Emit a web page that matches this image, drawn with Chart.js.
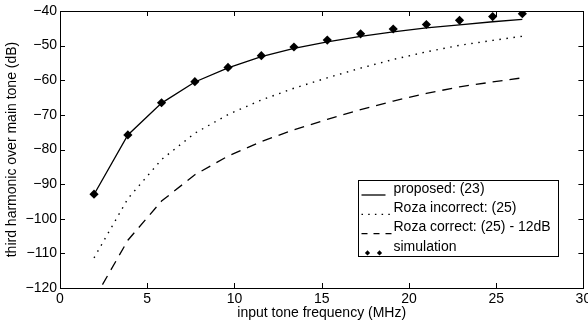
<!DOCTYPE html>
<html>
<head>
<meta charset="utf-8">
<script src="https://cdn.jsdelivr.net/npm/chart.js@4.4.1/dist/chart.umd.min.js"></script>
<style>
  html, body { margin: 0; padding: 0; background: #fff; }
  #wrap { width: 588px; height: 322px; position: relative; }
</style>
</head>
<body>
<div id="wrap"><canvas id="chart"></canvas></div>
<script>
// input tone frequency (MHz)
const freqs = [1.95, 3.89, 5.82, 7.73, 9.63, 11.54, 13.41, 15.32, 17.23, 19.1, 21.0, 22.9, 24.8, 26.5];
// third harmonic over main tone (dB)
const proposed = [-93, -75.8, -66.6, -60.5, -56.4, -53.2, -50.8, -48.9, -47.3, -46.0, -44.9, -44.0, -43.1, -42.4];
const rozaIncorrect = [-111.3, -94.2, -82.9, -75.3, -69.9, -65.7, -62.3, -59.3, -56.5, -54.0, -51.8, -49.9, -48.5, -47.3];
const rozaCorrect = [-123.3, -106.2, -94.9, -87.3, -81.9, -77.7, -74.3, -71.3, -68.5, -66.0, -63.8, -61.9, -60.5, -59.3];
const simulation = [-92.9, -75.8, -66.5, -60.4, -56.3, -52.9, -50.4, -48.4, -46.6, -45.2, -43.9, -42.7, -41.6, -40.8];

const legendLabels = ["proposed: (23)", "Roza incorrect: (25)", "Roza correct: (25) - 12dB", "simulation"];

const FONT = "'Liberation Sans', Arial, Helvetica, sans-serif";
const pts = ys => ys.map((y, i) => ({x: freqs[i], y}));

// frame + inward tick marks on all four sides
const framePlugin = {
    id: 'frame',
    afterDraw(chart) {
        const {ctx, chartArea: a, scales: {x, y}} = chart;
        ctx.save();
        ctx.strokeStyle = '#000';
        ctx.lineWidth = 1;
        const tl = 5;
        ctx.beginPath();
        for (const t of x.ticks) {
            const px = Math.round(x.getPixelForValue(t.value)) + 0.5;
            ctx.moveTo(px, a.bottom); ctx.lineTo(px, a.bottom - tl);
            ctx.moveTo(px, a.top); ctx.lineTo(px, a.top + tl);
        }
        for (const t of y.ticks) {
            const py = Math.round(y.getPixelForValue(t.value)) + 0.5;
            ctx.moveTo(a.left, py); ctx.lineTo(a.left + tl, py);
            ctx.moveTo(a.right, py); ctx.lineTo(a.right - tl, py);
        }
        ctx.stroke();
        ctx.strokeRect(Math.round(a.left) + 0.5, Math.round(a.top) + 0.5,
            Math.round(a.right - a.left), Math.round(a.bottom - a.top));
        ctx.restore();
    }
};

// matlab-style boxed legend inside the axes
const legendPlugin = {
    id: 'boxLegend',
    afterDraw(chart) {
        const {ctx, chartArea: a} = chart;
        const bx = Math.round(a.right - 225) + 0.5, by = Math.round(a.bottom - 108) + 0.5;
        const bw = 200, bh = 76;
        ctx.save();
        ctx.fillStyle = '#fff';
        ctx.fillRect(bx, by, bw, bh);
        ctx.strokeStyle = '#000';
        ctx.lineWidth = 1;
        ctx.strokeRect(bx, by, bw, bh);

        ctx.font = `14px ${FONT}`;
        ctx.fillStyle = '#000';
        ctx.textBaseline = 'middle';
        const rowH = 19.3;
        legendLabels.forEach((label, i) => {
            const cy = by + 8.5 + i * rowH;
            const sy = cy + 6;
            ctx.fillText(label, bx + 35, cy);
            ctx.beginPath();
            ctx.lineWidth = 1.3;
            if (i === 0) {
                ctx.setLineDash([]);
                ctx.moveTo(bx + 3, sy); ctx.lineTo(bx + 27, sy);
                ctx.stroke();
            } else if (i === 1) {
                ctx.setLineDash([1.5, 5.2]);
                ctx.moveTo(bx + 3, sy); ctx.lineTo(bx + 35, sy);
                ctx.stroke();
            } else if (i === 2) {
                ctx.setLineDash([6, 6]);
                ctx.moveTo(bx + 3, sy); ctx.lineTo(bx + 35, sy);
                ctx.stroke();
            } else {
                ctx.setLineDash([]);
                for (const dx of [9, 21]) {
                    const r = 2.6;
                    ctx.beginPath();
                    ctx.moveTo(bx + dx, sy - r); ctx.lineTo(bx + dx + r, sy);
                    ctx.lineTo(bx + dx, sy + r); ctx.lineTo(bx + dx - r, sy);
                    ctx.closePath();
                    ctx.fill();
                }
            }
        });
        ctx.restore();
    }
};

const lineBase = {
    borderColor: '#000',
    backgroundColor: '#000',
    borderWidth: 1.3,
    pointRadius: 0,
    tension: 0,
    fill: false,
};

new Chart(document.getElementById('chart'), {
    type: 'line',
    data: {
        datasets: [
            {...lineBase, label: legendLabels[0], data: pts(proposed)},
            {...lineBase, label: legendLabels[1], data: pts(rozaIncorrect), borderDash: [1.5, 5.6], borderWidth: 1.4},
            {...lineBase, label: legendLabels[2], data: pts(rozaCorrect), borderDash: [10, 7]},
            {
                label: legendLabels[3], data: pts(simulation), showLine: false,
                pointStyle: 'rectRot', pointRadius: 4.6,
                pointBackgroundColor: '#000', pointBorderColor: '#000', pointBorderWidth: 0,
            },
        ]
    },
    options: {
        responsive: true,
        maintainAspectRatio: false,
        animation: false,
        events: [],
        layout: {padding: {top: 11, right: 4, left: 0, bottom: 0}},
        plugins: {
            legend: {display: false},
            tooltip: {enabled: false},
        },
        scales: {
            x: {
                type: 'linear',
                min: 0, max: 30,
                grid: {display: false, drawTicks: false, tickLength: 0},
                border: {display: false},
                ticks: {
                    stepSize: 5, padding: 3, color: '#000',
                    maxRotation: 0, autoSkip: false,
                    font: {family: FONT, size: 14},
                },
                title: {
                    display: true, text: 'input tone frequency (MHz)', color: '#000',
                    font: {family: FONT, size: 14}, padding: {top: 0, bottom: 0},
                },
                afterFit(scale) {
                    scale.height = 34;
                    scale.paddingLeft = 0;
                    scale.paddingRight = 0;
                },
            },
            y: {
                min: -120, max: -40,
                grid: {display: false, drawTicks: false, tickLength: 0},
                border: {display: false},
                ticks: {
                    stepSize: 10, padding: 3, color: '#000',
                    font: {family: FONT, size: 14},
                    callback: v => String(v).replace('-', '\u2212'),
                },
                title: {
                    display: true, text: 'third harmonic over main tone (dB)', color: '#000',
                    font: {family: FONT, size: 14}, padding: {top: 4, bottom: 0},
                },
                afterFit(scale) {
                    scale.width = 60;
                    scale.paddingTop = 0;
                    scale.paddingBottom = 0;
                },
            },
        },
    },
    plugins: [framePlugin, legendPlugin],
});
</script>
</body>
</html>
